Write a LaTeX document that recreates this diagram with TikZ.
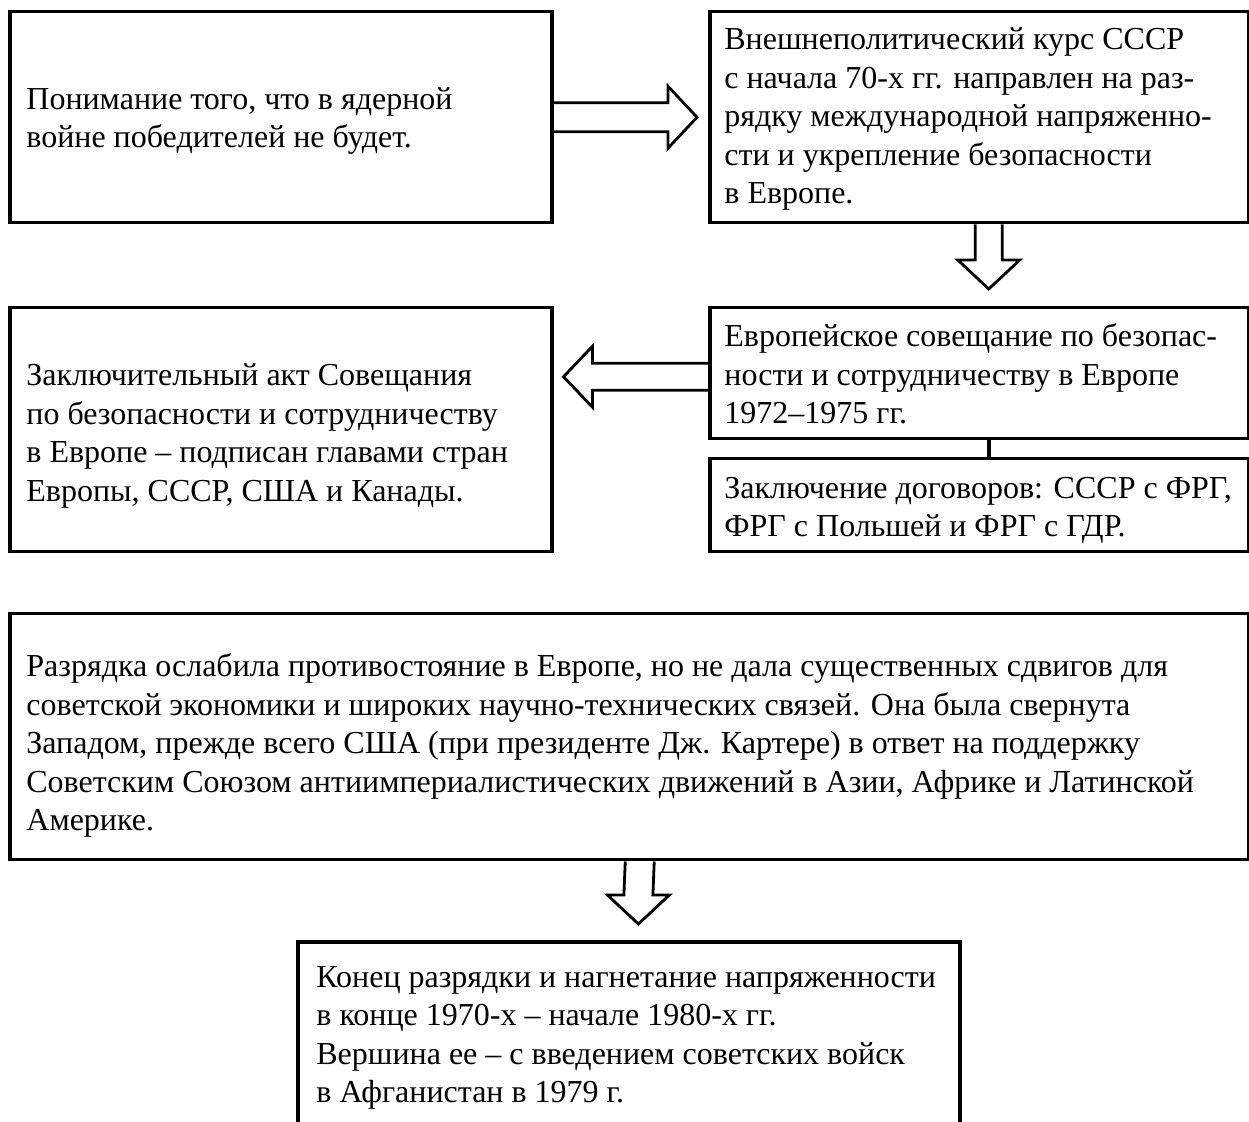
\documentclass[tikz,border=0pt]{standalone}
\usepackage{fontspec}
\setmainfont{Liberation Serif}
\usetikzlibrary{calc}
\tikzset{
 box/.style={draw, line width=1.75pt, anchor=north west, inner sep=0pt},
 txt/.style={anchor=west, align=left, inner sep=0pt, font=\fontsize{16pt}{19.25pt}\selectfont},
 barrow/.style={draw, line width=1.4pt, line join=miter},
}
\begin{document}
\begin{tikzpicture}[x=0.5pt,y=-0.5pt]
\useasboundingbox (0,0) rectangle (1249,1122);
\coordinate (pagebot) at (0,1122);
% boxes
\node[box, minimum width=271pt, minimum height=105.5pt] (b1) at (8,10) {};
\node[box, minimum width=269.5pt, minimum height=105.5pt] (b2) at (708,10) {};
\node[box, minimum width=269.5pt, minimum height=65.5pt] (b3) at (708,306) {};
\node[box, minimum width=269.5pt, minimum height=46.5pt] (b4) at (708,457) {};
\node[box, minimum width=271pt, minimum height=122pt] (b5) at (8,306) {};
\node[box, minimum width=619.5pt, minimum height=123pt] (b7) at (8,612) {};
\node[anchor=north west, inner sep=0pt, minimum width=330.5pt, minimum height=80pt] (b8) at (298,942) {};
\draw[line width=1.75pt] (b8.north west |- pagebot) -- (b8.north west) -- (b8.north east) -- (b8.north east |- pagebot);
% texts
\node[txt] (t1) at ($(b1.west)+(18,4)$) {Понимание того, что в ядерной\\войне победителей не будет.};
\node[txt] (t2) at ($(b2.west)+(16,2)$) {Внешнеполитический курс СССР\\с начала 70-х гг. направлен на раз-\\рядку международной напряженно-\\сти и укрепление безопасности\\в Европе.};
\node[txt] (t3) at ($(b3.west)+(16,1)$) {Европейское совещание по безопас-\\ности и сотрудничеству в Европе\\1972–1975 гг.};
\node[txt] (t4) at ($(b4.west)+(16,5)$) {Заключение договоров: СССР с ФРГ,\\ФРГ с Польшей и ФРГ с ГДР.};
\node[txt] (t5) at ($(b5.west)+(18,6)$) {Заключительный акт Совещания\\по безопасности и сотрудничеству\\в Европе – подписан главами стран\\Европы, СССР, США и Канады.};
\node[txt] (t7) at ($(b7.west)+(18,9)$) {Разрядка ослабила противостояние в Европе, но не дала существенных сдвигов для\\советской экономики и широких научно-технических связей. Она была свернута\\Западом, прежде всего США (при президенте Дж. Картере) в ответ на поддержку\\Советским Союзом антиимпериалистических движений в Азии, Африке и Латинской\\Америке.};
\node[txt, anchor=north west] (t8) at ($(b8.north west)+(18,24)$) {Конец разрядки и нагнетание напряженности\\в конце 1970-х – начале 1980-х гг.\\Вершина ее – с введением советских войск\\в Афганистан в 1979 г.};
% right arrow b1 -> b2
\coordinate (a1tip) at ($(b2.west)+(-11,0)$);
\draw[barrow] ($(b1.east)+(0,-14.5)$) -- ($(a1tip)+(-29,-14.5)$) -- ($(a1tip)+(-29,-31)$) -- (a1tip) -- ($(a1tip)+(-29,31)$) -- ($(a1tip)+(-29,14.5)$) -- ($(b1.east)+(0,14.5)$);
% down arrow b2 -> b3
\coordinate (a2top) at ($(b2.south)+(9.5,0)$);
\coordinate (a2tip) at ($(b3.north)+(9.5,-17)$);
\draw[barrow] ($(a2top)+(-13.5,0)$) -- ($(a2tip)+(-13.5,-29)$) -- ($(a2tip)+(-31,-29)$) -- (a2tip) -- ($(a2tip)+(31,-29)$) -- ($(a2tip)+(13.5,-29)$) -- ($(a2top)+(13.5,0)$);
% b3 - b4 connector
\draw[line width=1.75pt] ($(b3.south)+(9.5,0)$) -- ($(b4.north)+(9.5,0)$);
% left arrow b3 -> b5
\coordinate (a3start) at ($(b3.west)+(0,3.5)$);
\coordinate (a3tip) at ($(b5.east |- a3start)+(10,0)$);
\draw[barrow] ($(a3start)+(0,-13.5)$) -- ($(a3tip)+(29,-13.5)$) -- ($(a3tip)+(29,-30.5)$) -- (a3tip) -- ($(a3tip)+(29,30.5)$) -- ($(a3tip)+(29,13.5)$) -- ($(a3start)+(0,13.5)$);
% down arrow b7 -> b8
\coordinate (a4top) at ($(b7.south)+(10.5,0)$);
\coordinate (a4tip) at ($(b8.north)+(9.5,-18)$);
\draw[barrow] ($(a4top)+(-14.5,0)$) -- ($(a4tip)+(-14.5,-29)$) -- ($(a4tip)+(-31,-29)$) -- (a4tip) -- ($(a4tip)+(31,-29)$) -- ($(a4tip)+(14.5,-29)$) -- ($(a4top)+(14.5,0)$);
\end{tikzpicture}
\end{document}
